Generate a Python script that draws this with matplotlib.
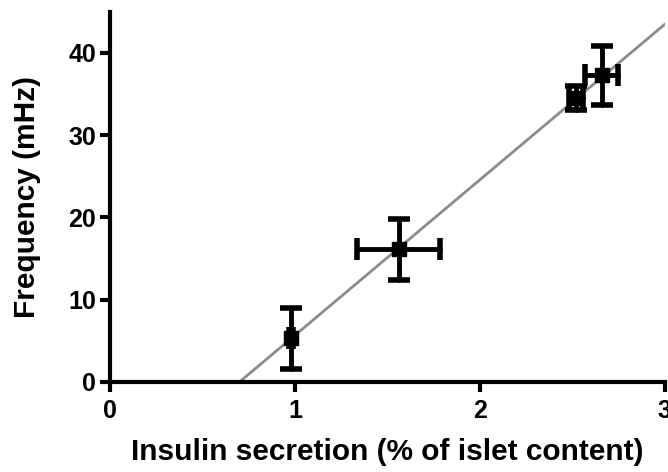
import matplotlib
matplotlib.use("Agg")
import matplotlib.pyplot as plt
import numpy as np

# data
secretion = [0.98, 1.56, 2.52, 2.66]
secretion_err = [0.01, 0.225, 0.04, 0.09]
frequency = [5.3, 16.1, 34.5, 37.3]
frequency_err = [3.7, 3.7, 1.5, 3.6]

fit_x = [0.70, 3.05]
fit_slope = 18.9
fit_intercept = -0.70 * 18.9

plt.rcParams["font.family"] = ["Liberation Sans", "DejaVu Sans"]
plt.rcParams["font.weight"] = "bold"

fig = plt.figure(figsize=(6.68, 4.72), dpi=100, facecolor="white")
ax = fig.add_axes([0.165, 0.191, 0.83, 0.784])

fx = np.array(fit_x)
ax.plot(fx, fit_slope * fx + fit_intercept, color="#8c8c8c", lw=2, zorder=2)

eb = ax.errorbar(secretion, frequency, xerr=secretion_err, yerr=frequency_err,
                 fmt="s", color="black", ms=10.5, elinewidth=3.5, capsize=8,
                 capthick=4, zorder=3)
for col in eb[2]:
    col.set_capstyle("round")
for cap in eb[1]:
    cap.set_solid_capstyle("round")

ax.set_xlim(0, 3)
ax.set_ylim(0, 45)
ax.set_xticks([0, 1, 2, 3])
ax.set_yticks([0, 10, 20, 30, 40])
for s in ["top", "right"]:
    ax.spines[s].set_visible(False)
for s in ["left", "bottom"]:
    ax.spines[s].set_linewidth(3)
ax.tick_params(width=3, length=7, labelsize=18, pad=3)
ax.tick_params(axis="x", pad=5)
for lab in ax.get_xticklabels() + ax.get_yticklabels():
    lab.set_fontweight("bold")

ax.set_xlabel("Insulin secretion (% of islet content)", fontsize=21.5,
              fontweight="bold", labelpad=11)
ax.set_ylabel("Frequency (mHz)", fontsize=21.5, fontweight="bold", labelpad=20)

fig.savefig("out.png", dpi=100, facecolor="white")
